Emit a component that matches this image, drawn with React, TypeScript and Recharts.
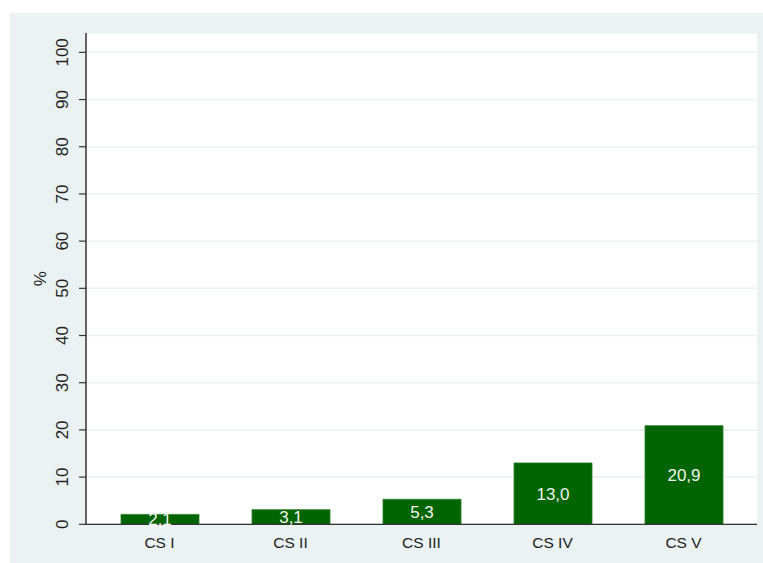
import React from "react";
import { BarChart, Bar, XAxis, YAxis, CartesianGrid, LabelList } from "recharts";

const categories = ["CS I", "CS II", "CS III", "CS IV", "CS V"];
const values = [2.1, 3.1, 5.3, 13.0, 20.9];
const yTicks = [0, 10, 20, 30, 40, 50, 60, 70, 80, 90, 100];

const data = categories.map((c, i) => ({ name: c, value: values[i] }));

const FONT = "'Liberation Sans', Arial, sans-serif";

const YTick = (props: any) => {
  const { x, y, payload } = props;
  return (
    <text
      x={0}
      y={0}
      transform={`translate(${x - 15}, ${y}) rotate(-90)`}
      textAnchor="middle"
      dominantBaseline="central"
      fontSize={17}
      fontFamily={FONT}
      fill="#222"
    >
      {payload.value}
    </text>
  );
};

const XTick = (props: any) => {
  const { x, y, payload } = props;
  return (
    <text
      x={x}
      y={y + 10.5}
      textAnchor="middle"
      dominantBaseline="central"
      fontSize={15.5}
      fontFamily={FONT}
      fill="#222"
    >
      {payload.value}
    </text>
  );
};

const fmt = (v: any) => Number(v).toFixed(1).replace(".", ",");

export default function App() {
  return (
    <div style={{ position: "fixed", left: 0, top: 0, width: 763, height: 563, background: "#ffffff" }}>
      <div style={{ position: "absolute", left: 10, top: 13, width: 753, height: 550, background: "#eaf2f3" }} />
      <div style={{ position: "absolute", left: 86, top: 33, width: 671, height: 491, background: "#ffffff" }} />
      <div style={{ position: "absolute", left: 0, top: 0 }}>
        <BarChart
          width={763}
          height={563}
          data={data}
          margin={{ top: 33, right: 6, bottom: 0, left: 0 }}
          barSize={78}
        >
          <CartesianGrid vertical={false} stroke="#eaf2f3" strokeWidth={1.5} />
          <XAxis
            dataKey="name"
            height={38.7}
            padding={{ left: 8, right: 8 }}
            tickLine={false}
            axisLine={{ stroke: "#333", strokeWidth: 1.2 }}
            tick={<XTick />}
            interval={0}
          />
          <YAxis
            width={86}
            domain={[0, 104.1]}
            ticks={yTicks}
            interval={0}
            tickSize={7}
            tickLine={{ stroke: "#333", strokeWidth: 1.2 }}
            axisLine={{ stroke: "#333", strokeWidth: 1.5 }}
            tick={<YTick />}
            label={{
              value: "%",
              angle: -90,
              position: "insideLeft",
              offset: 40,
              style: { fontSize: 17, fontFamily: FONT, fill: "#222", textAnchor: "middle" },
            }}
          />
          <Bar dataKey="value" fill="#006400" stroke="#2a7d2a" strokeWidth={0.8} isAnimationActive={false}>
            <LabelList
              dataKey="value"
              position="center"
              formatter={fmt}
              style={{ fill: "#f2f5ee", fontSize: 17, fontFamily: FONT }}
            />
          </Bar>
        </BarChart>
      </div>
    </div>
  );
}
